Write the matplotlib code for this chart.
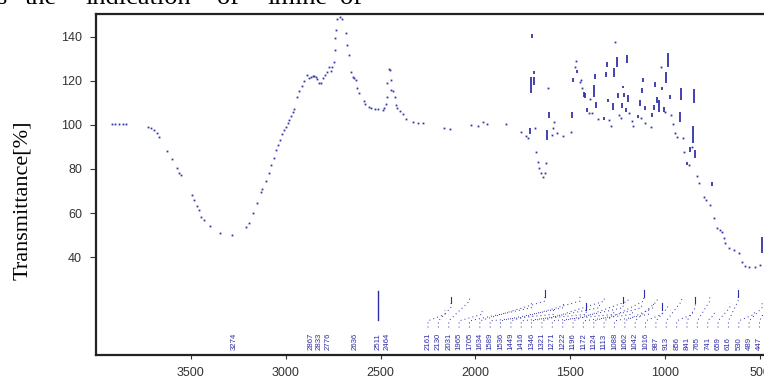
import matplotlib
matplotlib.use("Agg")
import matplotlib.pyplot as plt
import numpy as np

FIG_SIZE = (7.64, 3.80)
DPI = 100
DOT_COLOR = "#3434a8"
LABEL_COLOR = "#2c2ca6"
SERIF = ["Liberation Serif", "DejaVu Serif"]
SANS = ["Liberation Sans", "DejaVu Sans"]

# spectrum, single dots (wavenumber cm-1, transmittance %)
WAVENUMBER = [
    3917, 3900, 3880, 3860, 3840, 3728, 3711, 3695, 3679, 3668, 3626, 3602, 3574, 3560, 3553,
    3495, 3483, 3470, 3458, 3447, 3430, 3398, 3346, 3281, 3211, 3193, 3172, 3153, 3132, 3123,
    3105, 3090, 3075, 3063, 3053, 3042, 3032, 3021, 3011, 3000, 2990, 2984, 2974, 2963, 2958,
    2938, 2928, 2912, 2904, 2888, 2875, 2867, 2858, 2851, 2842, 2835, 2826, 2816, 2802, 2793,
    2784, 2774, 2760, 2754, 2744, 2742, 2739, 2735, 2728, 2716, 2702, 2684, 2675, 2667, 2658,
    2647, 2641, 2628, 2623, 2616, 2590, 2583, 2562, 2553, 2532, 2511, 2488, 2483, 2474, 2468,
    2465, 2458, 2453, 2447, 2445, 2437, 2426, 2417, 2411, 2398, 2384, 2367, 2328, 2305, 2279,
    2168, 2135, 2021, 1984, 1958, 1937, 1839, 1758, 1732, 1723, 1686, 1679, 1670, 1665, 1656,
    1644, 1635, 1630, 1616, 1595, 1590, 1584, 1569, 1537, 1495, 1477, 1469, 1448, 1441, 1437,
    1402, 1395, 1388, 1354, 1295, 1283, 1262, 1242, 1233, 1188, 1174, 1169, 1128, 1104, 1075,
    1023, 1002, 969, 960, 946, 939, 905, 902, 875, 858, 832, 820, 795, 784, 765,
    744, 726, 713, 700, 691, 683, 663, 637, 611, 595, 577, 560, 525, 499,
]
TRANSMITTANCE = [
    100.3, 100.3, 100.3, 100.3, 100.3, 99.2, 98.8, 97.7, 96.5, 94.7, 88.0, 84.5, 80.6, 78.3, 77.4,
    68.3, 66.0, 63.2, 61.4, 58.3, 56.8, 54.1, 50.8, 50.0, 53.5, 55.4, 60.1, 64.7, 69.7, 70.9,
    74.5, 78.2, 81.8, 85.1, 88.5, 90.8, 93.3, 95.8, 97.7, 99.1, 100.9, 102.1, 104.0, 105.9, 107.1,
    112.6, 115.6, 117.6, 120.0, 122.6, 121.3, 121.7, 122.3, 122.4, 122.0, 120.8, 119.2, 118.9, 121.2, 122.6,
    124.1, 126.3, 124.4, 126.3, 128.6, 134.1, 139.5, 143.2, 148.2, 149.1, 148.2, 141.8, 136.3, 131.8, 124.2,
    121.8, 121.3, 120.6, 116.8, 114.5, 110.9, 109.7, 108.2, 107.7, 107.3, 107.3, 106.8, 107.7, 109.4, 112.7,
    119.1, 125.4, 125.1, 120.4, 116.0, 115.4, 112.6, 109.2, 107.7, 106.3, 105.1, 102.9, 101.2, 100.7, 100.9,
    98.6, 98.2, 100.1, 99.5, 101.3, 100.3, 100.3, 96.8, 95.1, 93.9, 98.4, 87.9, 83.3, 80.6, 78.3,
    76.5, 78.3, 82.6, 116.7, 95.5, 98.5, 101.5, 96.2, 95.0, 97.0, 126.5, 129.2, 119.5, 120.4, 116.7,
    105.6, 111.7, 105.3, 102.7, 102.3, 99.5, 137.8, 104.5, 103.0, 105.3, 102.0, 99.5, 103.0, 101.0, 99.2,
    126.5, 106.0, 104.5, 100.4, 96.2, 94.7, 94.0, 87.9, 81.8, 90.1, 76.8, 73.8, 67.4, 66.0, 63.6,
    57.6, 53.2, 52.2, 51.4, 48.5, 46.2, 44.1, 43.0, 41.8, 37.9, 35.9, 35.6, 35.3, 36.3,
]

# spectrum, stacked dots drawn as short bars (wavenumber, low, high)
BAR_W = [1712, 1705, 1700, 1691, 1690, 1625, 1612, 1490, 1484, 1463, 1428, 1420, 1411, 1375, 1370,
         1363, 1323, 1314, 1309, 1300, 1275, 1270, 1256, 1247, 1230, 1221, 1216, 1209, 1200, 1195,
         1142, 1135, 1123, 1116, 1107, 1069, 1060, 1051, 1042, 1033, 1016, 1007, 995, 986, 975,
         920, 914, 884, 867, 853, 848, 841, 753, 490]
BAR_LO = [96.0, 114.4, 139.6, 123.3, 118.2, 93.2, 103.0, 103.0, 119.7, 123.8, 112.8, 112.3, 106.0, 112.9, 120.8,
          107.6, 102.3, 122.0, 126.5, 110.6, 106.8, 122.0, 126.5, 112.1, 107.6, 116.7, 112.9, 106.0, 128.0, 110.6,
          103.0, 108.6, 114.4, 119.7, 106.8, 103.5, 106.8, 117.4, 109.8, 106.0, 115.9, 106.0, 118.9, 126.5, 111.7,
          101.5, 111.4, 81.8, 87.9, 91.7, 109.9, 84.8, 72.3, 41.8]
BAR_HI = [98.5, 121.8, 141.2, 124.3, 121.8, 97.7, 106.0, 106.0, 121.5, 125.0, 115.1, 114.5, 107.7, 118.2, 123.2,
          110.6, 103.8, 124.2, 128.8, 111.7, 109.8, 125.8, 131.0, 114.4, 109.8, 117.7, 114.7, 107.6, 131.8, 113.6,
          104.5, 111.3, 116.7, 121.2, 108.6, 105.6, 109.1, 119.7, 112.8, 111.3, 117.4, 108.0, 124.2, 132.6, 113.6,
          106.0, 116.7, 83.0, 90.1, 99.5, 116.2, 88.6, 74.2, 49.1]

# peak picks
PEAKS_HIGH = [3274, 2867, 2833, 2776, 2636, 2511, 2464]
PEAKS_LOW = [2161, 2130, 2031, 1965, 1705, 1634, 1589, 1536, 1449, 1416, 1346, 1321, 1271, 1222, 1196,
             1172, 1124, 1113, 1088, 1062, 1042, 1016, 987, 913, 856, 841, 765, 741, 659, 616,
             530, 489, 447]
MARKED_PEAK = 2511

X_TICKS = [3500, 3000, 2500, 2000, 1500, 1000, 500]
Y_TICKS = [40, 60, 80, 100, 120, 140]

TOP_WORDS = ["s", "the", "indication", "of", "imine", "of"]
TOP_WORD_X = [-3, 25, 85, 217, 267, 340]


def spread(values, gap):
    pos = list(values)
    for i in range(1, len(pos)):
        if pos[i - 1] - pos[i] < gap:
            pos[i] = pos[i - 1] - gap
    return pos


fig = plt.figure(figsize=FIG_SIZE, dpi=DPI)
ax = fig.add_axes([96 / 764, 25 / 380, 683 / 764, 341 / 380])
ax.set_xlim(4000, 400)
ax.set_ylim(-4.5, 150.4)

ax.plot(WAVENUMBER, TRANSMITTANCE, linestyle="none", marker="s", markersize=1.3,
        markeredgewidth=0, color=DOT_COLOR)
ax.vlines(BAR_W, BAR_LO, BAR_HI, colors=DOT_COLOR, linewidth=1.3)

label_bottom = -2.4
label_kw = dict(rotation=90, ha="center", va="bottom", fontsize=5.6,
                color=LABEL_COLOR, family=SANS)

for w, lx in zip(PEAKS_HIGH, spread(PEAKS_HIGH, 45)):
    ax.text(lx, label_bottom, str(w), **label_kw)
    if w == MARKED_PEAK:
        ax.plot([w, w], [11.5, 24.5], color=LABEL_COLOR, linewidth=1.0)

# evenly spaced labels in the crowded region, with dotted leaders to the peaks
label_start = 2250
label_step = 54.6
for i, w in enumerate(PEAKS_LOW):
    lx = label_start - i * label_step
    ax.text(lx, label_bottom, str(w), **label_kw)
    top = 16 + 3 * (i % 3)
    ax.plot([lx, lx, w, w], [8.0, 11.0, top - 2, top], color=LABEL_COLOR,
            linewidth=0.7, linestyle=(0, (1, 3.2)))
    if i % 4 == 1:
        ax.plot([w, w], [top, top + 3], color=LABEL_COLOR, linewidth=0.8)

ax.set_xticks(X_TICKS)
ax.set_yticks(Y_TICKS)
ax.tick_params(axis="x", direction="out", length=3, width=0.8, pad=6, labelsize=9,
               colors="#333333")
ax.tick_params(axis="y", direction="out", length=4, width=0.8, pad=6, labelsize=9,
               colors="#333333")
for lab in ax.get_xticklabels() + ax.get_yticklabels():
    lab.set_family(SANS)

for side in ["left", "top", "bottom"]:
    ax.spines[side].set_linewidth(1.6)
    ax.spines[side].set_color("#222222")
ax.spines["right"].set_visible(False)

fig.text(23 / 764, 1 - 200 / 380, "Transmittance[%]", rotation=90, ha="center",
         va="center", fontsize=16, family=SERIF)

# line of body text from the page above, cut by the crop as in the scan
for word, x in zip(TOP_WORDS, TOP_WORD_X):
    fig.text(x / 764, 1 - 4.5 / 380, word, ha="left", va="baseline", fontsize=19,
             family=SERIF)

fig.savefig("out.png", dpi=DPI)
